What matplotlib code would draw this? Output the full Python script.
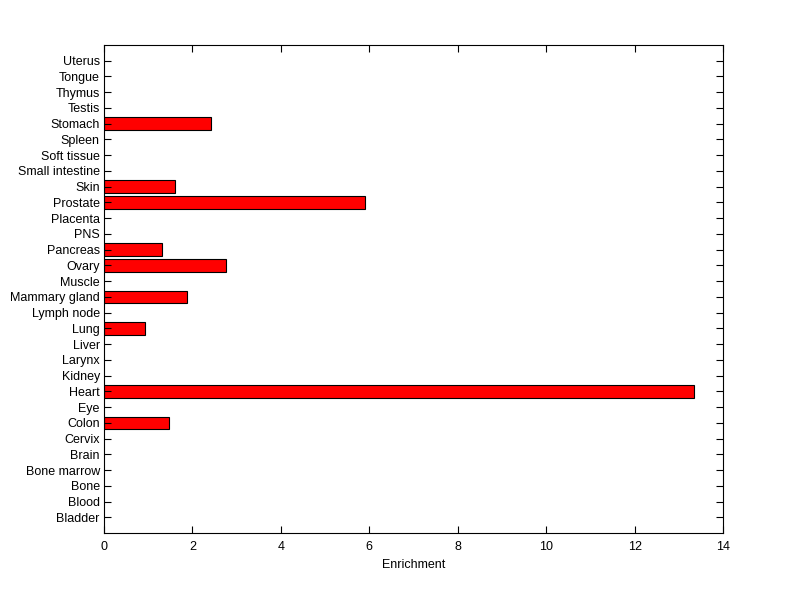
import matplotlib
matplotlib.use("Agg")
import matplotlib.pyplot as plt
import numpy as np

plt.rcParams['font.family'] = ['Liberation Sans', 'DejaVu Sans']

categories = ["Bladder", "Blood", "Bone", "Bone marrow", "Brain", "Cervix", "Colon",
              "Eye", "Heart", "Kidney", "Larynx", "Liver", "Lung", "Lymph node",
              "Mammary gland", "Muscle", "Ovary", "Pancreas", "PNS", "Placenta",
              "Prostate", "Skin", "Small intestine", "Soft tissue", "Spleen",
              "Stomach", "Testis", "Thymus", "Tongue", "Uterus"]
values = [0, 0, 0, 0, 0, 0, 1.47,
          0, 13.35, 0, 0, 0, 0.93, 0,
          1.88, 0, 2.76, 1.31, 0, 0,
          5.90, 1.61, 0, 0, 0,
          2.42, 0, 0, 0, 0]
xticks = [0, 2, 4, 6, 8, 10, 12, 14]

fig = plt.figure(figsize=(8, 5.99), dpi=100)
ax = fig.add_axes([0.13, 0.110, 0.774, 0.815])
pos = np.arange(1, len(categories) + 1)
vals = np.array(values)
mask = vals > 0
ax.barh(pos[mask], vals[mask], height=0.8, color='#ff0000', edgecolor='black', linewidth=0.8)
ax.set_ylim(0, len(categories) + 1)
ax.set_xlim(0, 14)
ax.set_yticks(pos)
ax.set_yticklabels(categories)
ax.set_xticks(xticks)
ax.set_xticklabels([str(t) for t in xticks])
ax.tick_params(direction='in', length=5, width=0.8, top=True, right=True, labelsize=9)
ax.tick_params(axis='x', pad=6)
ax.tick_params(axis='y', pad=3)
for s in ax.spines.values():
    s.set_linewidth(0.8)
ax.set_xlabel("Enrichment", fontsize=9, labelpad=4)
fig.savefig("out.png", dpi=100)
